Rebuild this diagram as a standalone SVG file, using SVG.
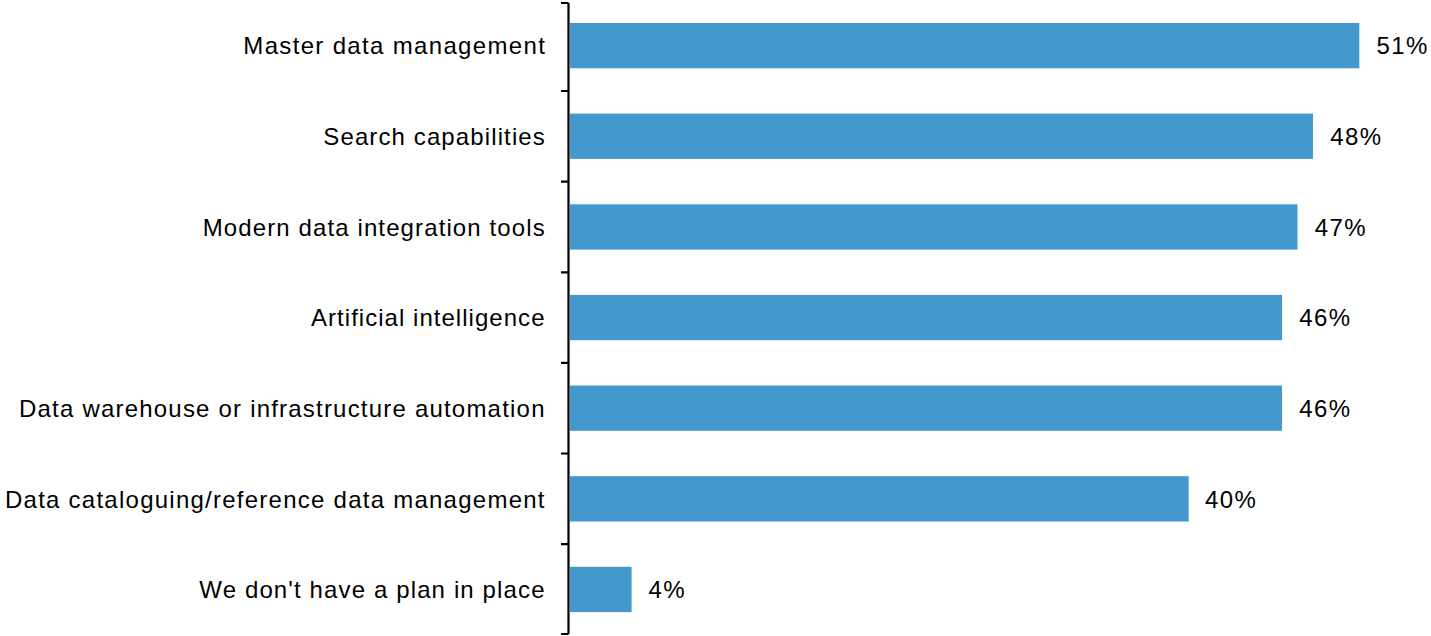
<svg xmlns="http://www.w3.org/2000/svg" width="1431" height="636" viewBox="0 0 1431 636">
<style>
.lbl{font-family:"Liberation Sans",Arial,sans-serif;font-size:24px;fill:#000}
.val{font-family:"Liberation Sans",Arial,sans-serif;font-size:24px;fill:#000;letter-spacing:1.4px}
.bar{fill:#4398CC}
.ax{stroke:#000;stroke-width:2.2;fill:none}
</style>
<rect width="1431" height="636" fill="#fff"/>
<g id="axis">
<path class="ax" d="M568.5,3 V634 M561,3 H568.5 M561,91 H568.5 M561,181.6 H568.5 M561,272.3 H568.5 M561,362.8 H568.5 M561,453.5 H568.5 M561,544.2 H568.5 M561,634 H568.5"/>
</g>
<g id="bar1"><rect class="bar" x="570" y="23" width="789.3" height="45.3"/><text class="lbl" x="243.3" y="54.3" textLength="301.5" lengthAdjust="spacing">Master data management</text><text class="val" x="1376.5" y="54.3">51%</text></g>
<g id="bar2"><rect class="bar" x="570" y="113.6" width="743" height="45.3"/><text class="lbl" x="323.3" y="144.9" textLength="221.5" lengthAdjust="spacing">Search capabilities</text><text class="val" x="1330.3" y="144.9">48%</text></g>
<g id="bar3"><rect class="bar" x="570" y="204.3" width="727.5" height="45.3"/><text class="lbl" x="202.7" y="235.6" textLength="342" lengthAdjust="spacing">Modern data integration tools</text><text class="val" x="1314.8" y="235.6">47%</text></g>
<g id="bar4"><rect class="bar" x="570" y="294.9" width="712" height="45.3"/><text class="lbl" x="311" y="326.2" textLength="233.5" lengthAdjust="spacing">Artificial intelligence</text><text class="val" x="1299.3" y="326.2">46%</text></g>
<g id="bar5"><rect class="bar" x="570" y="385.5" width="712" height="45.3"/><text class="lbl" x="19" y="416.8" textLength="525.5" lengthAdjust="spacing">Data warehouse or infrastructure automation</text><text class="val" x="1299.3" y="416.8">46%</text></g>
<g id="bar6"><rect class="bar" x="570" y="476.2" width="618.7" height="45.3"/><text class="lbl" x="5" y="507.5" textLength="539.5" lengthAdjust="spacing">Data cataloguing/reference data management</text><text class="val" x="1205" y="507.5">40%</text></g>
<g id="bar7"><rect class="bar" x="570" y="566.8" width="61.6" height="45.3"/><text class="lbl" x="199.3" y="598.1" textLength="345.2" lengthAdjust="spacing">We don't have a plan in place</text><text class="val" x="648.5" y="598.1">4%</text></g>
</svg>
